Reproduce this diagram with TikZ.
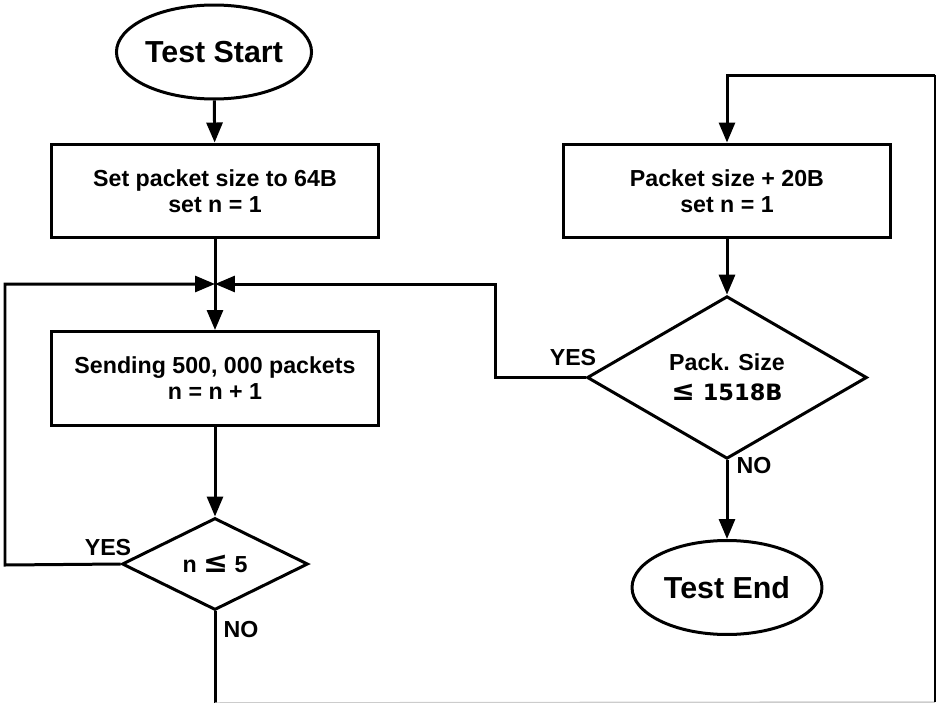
\documentclass[tikz,border=0pt]{standalone}
\usepackage{fontspec}
\setmainfont{Liberation Sans}
\newfontfamily\symfont{DejaVu Sans}
\usetikzlibrary{arrows.meta,shapes.geometric}
\begin{document}
\begin{tikzpicture}[x=0.02cm,y=-0.02cm]
	\tikzstyle{flow}=[draw=black,line width=0.06cm,font=\bfseries\fontsize{13.2}{14.8}\selectfont,align=center,inner sep=0pt]
	\tikzstyle{terminal}=[flow,ellipse,minimum width=3.8cm,minimum height=1.88cm,font=\bfseries\fontsize{17.3}{20}\selectfont]
	\tikzstyle{process}=[flow,rectangle,minimum width=6.56cm,minimum height=1.88cm]
	\tikzstyle{decision}=[flow,diamond]
	\tikzstyle{line}=[line width=0.06cm]
	\tikzstyle{arrow}=[line,-{Triangle[length=0.4cm,width=0.32cm]}]
	\tikzstyle{tag}=[font=\bfseries\fontsize{13.2}{14.8}\selectfont,inner sep=0pt]
	\useasboundingbox (0,0) rectangle (937,703);
	\node[terminal] (start) at (214,52) {Test Start};
	\node[process] (setsize) at (215,191) {Set packet size to 64B\\set n = 1};
	\coordinate (join) at (215,284);
	\node[process] (send) at (215,378.5) {Sending 500, 000 packets\\n = n + 1};
	\node[decision,minimum width=3.72cm,minimum height=1.84cm] (checkn) at (215,564) {n {\symfont\fontsize{17}{17}\selectfont ≤} 5};
	\node[process] (incr) at (727,191) {Packet size + 20B\\set n = 1};
	\node[decision,minimum width=5.6cm,minimum height=2.78cm,font=\bfseries\fontsize{13.2}{17}\selectfont] (checksize) at (727,377.5) {Pack. Size\\{\symfont\fontsize{16}{17}\selectfont ≤}{\symfont\fontsize{12.8}{17}\selectfont{} 1518B}};
	\node[terminal] (end) at (727,587.5) {Test End};
	\node[tag] (yesn) at (108,548) {YES};
	\node[tag] (non) at (241,630) {NO};
	\node[tag] (yessize) at (573,358) {YES};
	\node[tag] (nosize) at (754,466) {NO};
	\coordinate (leftx) at (5,565);
	\coordinate (rightx) at (495,377.5);
	\coordinate (low) at (215,703);
	\coordinate (corner) at (935,702);
	\coordinate (top) at (935,75);
	\draw[arrow] (start) -- (setsize);
	\draw[line] (setsize) -- (join);
	\draw[arrow] (join) -- (send);
	\draw[arrow] (send) -- (checkn);
	\draw[arrow] (checkn.west) -- (leftx) |- (join);
	\draw[arrow] (checksize.west) -- (rightx) |- (join);
	\draw[line] (checkn.south) -- (low);
	\draw[gray!40,line width=0.03cm] (low) -- (corner);
	\draw[line width=0.03cm] (corner) -- (top);
	\draw[arrow] (top) -| (incr.north);
	\draw[arrow] (incr) -- (checksize);
	\draw[arrow] (checksize) -- (end);
\end{tikzpicture}
\end{document}
